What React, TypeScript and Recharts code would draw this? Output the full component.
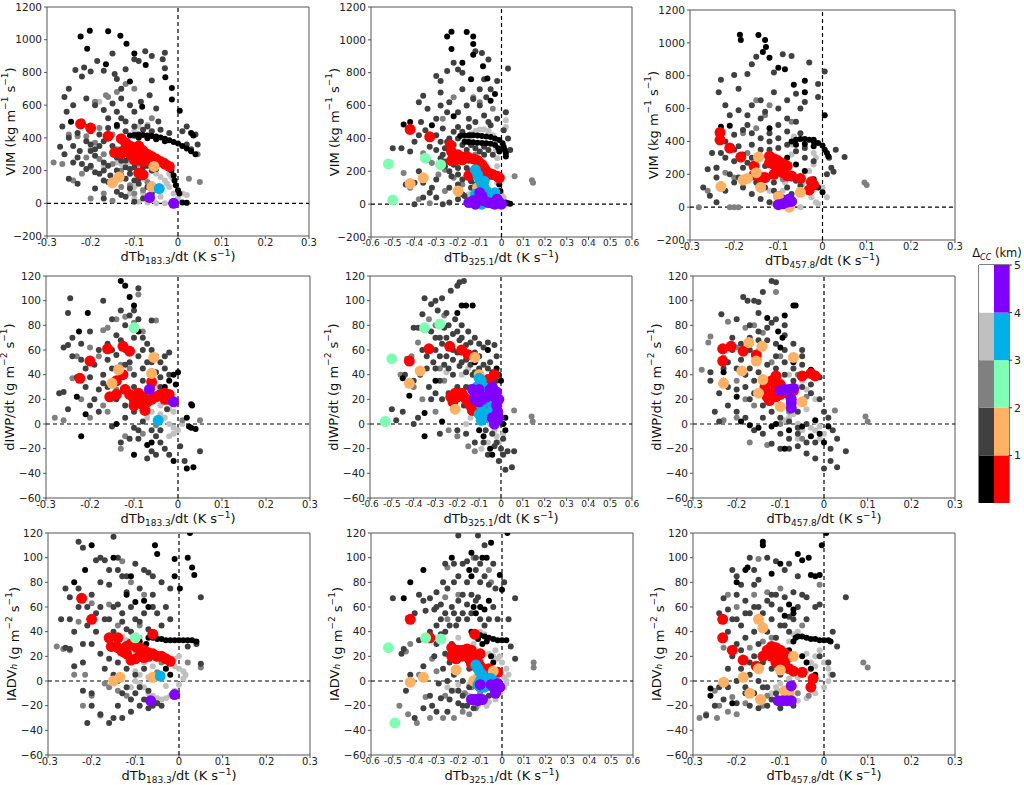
import React from "react";
import {
  ScatterChart,
  Scatter,
  XAxis,
  YAxis,
  ReferenceLine,
  ReferenceArea,
  BarChart,
  Bar,
  Cell,
} from "recharts";

type Pt = [number, number];

const FONT = "DejaVu Sans, Liberation Sans, sans-serif";

// axis ticks
const ticksNarrow = [-0.3, -0.2, -0.1, 0, 0.1, 0.2, 0.3];
const ticksWide = [-0.6, -0.5, -0.4, -0.3, -0.2, -0.1, 0, 0.1, 0.2, 0.3, 0.4, 0.5, 0.6];
const vimTicks = [-200, 0, 200, 400, 600, 800, 1000, 1200];
const fluxTicks = [-60, -40, -20, 0, 20, 40, 60, 80, 100, 120];

// colorbar
const cbSides = ["gray", "color"];
const cbGrays = ["#000000", "#404040", "#808080", "#c0c0c0", "#ffffff"];
const cbHues = ["#ff0000", "#ffb266", "#80ffb4", "#00b0e6", "#8000ff"];
const cbTicks = [0, 1, 2, 3, 4, 5];

// ---------- VIM vs dTb183.3 ----------
const vim183Black: Pt[] = [[-0.223,1020],[-0.202,1055],[-0.16,1052],[-0.132,1025],[-0.208,945],[-0.118,975],[-0.1,915],[-0.074,845],[-0.029,770],[-0.014,705],[-0.014,635],[0.004,565],[-0.245,498],[-0.14,478],[-0.082,590],[-0.165,850],[-0.11,745],
  [-0.11,415],[-0.1,418],[-0.09,420],[-0.08,418],[-0.07,415],[-0.06,412],[-0.05,408],[-0.04,402],[-0.03,395],[-0.02,385],[-0.01,375],[0,365],[0.01,350],[0.02,335],[0.03,318],[0.04,300],[-0.09,400],[-0.07,398],[-0.05,392],[-0.03,380],
  [-0.02,235],[-0.015,200],[-0.01,170],[-0.008,140],[-0.005,110],[0,80],[0.003,60],[0.01,5],[0.02,3],[-0.005,0],[0.03,430],[0.035,415]];
const vim183Dark: Pt[] = [[-0.26,650],[-0.25,700],[-0.24,600],[-0.235,815],[-0.22,775],[-0.215,830],[-0.2,805],[-0.185,870],[-0.17,810],[-0.15,915],[-0.14,760],[-0.145,790],[-0.13,700],[-0.12,820],[-0.1,880],[-0.09,870],[-0.075,930],[-0.06,900],[-0.03,920],[-0.035,880],[-0.03,825],[-0.06,750],[-0.065,660],[-0.05,580],[-0.085,620],[-0.1,560],[-0.11,600],[-0.13,640],[-0.15,610],[-0.17,570],[-0.19,600],[-0.21,640],[-0.255,560],[-0.265,470],[-0.27,345],[-0.26,300],[-0.25,400],[-0.23,430],[-0.21,380],[-0.2,320],[-0.19,290],[-0.18,350],[-0.16,400],[-0.17,250],[-0.15,310],[-0.13,260],[-0.12,220],[-0.11,180],[-0.1,140],[-0.09,120],[-0.08,160],[-0.07,260],[-0.06,300],[-0.04,450],[-0.02,430],[0.01,440],[0.02,470],[0.04,420],[0.045,360],[-0.225,320],[-0.24,250],[-0.2,230],[-0.18,180],[-0.16,130],[-0.14,70],[-0.12,40],[-0.1,10],[-0.08,30],[-0.06,60],[-0.05,100],[-0.13,520],[-0.14,560],[-0.16,520],[-0.205,470],[-0.2,440],[-0.22,500],[-0.12,500],[-0.085,500],[-0.07,470],[-0.045,500],[-0.11,300],[-0.095,250],[-0.08,220],[-0.14,200],[-0.12,150],[-0.155,170],[-0.17,140],[-0.06,200],[0.02,360],[0.03,330],
  [-0.19,330],[-0.17,380],[-0.15,350],[-0.13,330],[-0.11,280],[-0.09,270],[-0.07,230],[-0.05,210],[-0.16,230],[-0.14,280],[-0.12,260],[-0.1,220],[-0.08,190],[-0.13,170],[-0.11,210],[-0.09,150],[-0.07,100],[-0.15,140],[-0.17,200],[-0.19,190],[-0.21,210],[-0.23,280],[-0.18,420],[-0.16,460],[-0.12,440],[-0.1,470],[-0.08,450],[-0.06,440],[-0.14,470],[-0.2,360],[-0.24,350],[-0.22,240],[-0.25,150],[-0.23,120],[-0.19,90],[-0.17,30],[-0.13,50],[-0.11,90]];
const vim183Gray: Pt[] = [[-0.285,250],[-0.265,240],[-0.24,140],[-0.22,180],[-0.2,220],[-0.18,270],[-0.16,650],[-0.19,620],[-0.165,660],[-0.14,680],[-0.18,460],[-0.19,370],[-0.17,300],[-0.15,240],[-0.13,200],[-0.14,330],[-0.12,380],[-0.1,410],[-0.08,340],[-0.09,240],[-0.11,110],[-0.13,100],[-0.1,60],[-0.08,80],[-0.07,130],[-0.2,30],[-0.17,60],[-0.15,15],[0.025,150],[0.05,130],[0.045,300],[-0.21,410],[-0.23,410],[-0.25,420],[-0.1,700],[-0.12,730],[-0.06,520],[-0.15,420],[-0.21,280],[-0.03,260]];
const vim183Light: Pt[] = [[-0.07,230],[-0.06,200],[-0.05,180],[-0.04,160],[-0.03,140],[-0.025,120],[-0.02,100],[-0.01,60],[0,30],[0.01,60],[0.02,50],[-0.01,10],[-0.03,0],[-0.05,0],[-0.07,5],[-0.09,10],[-0.1,30],[-0.11,60],[-0.1,100],[-0.08,150],[-0.06,120],[-0.05,80],[-0.04,40],[-0.08,60],[-0.09,200],[-0.11,250],[-0.12,300],[-0.13,240],[-0.14,250],[-0.18,620],[-0.17,230],[-0.2,330],[-0.09,470],[-0.07,480],[-0.1,440],[-0.06,300],[-0.045,260],[0.02,0],[-0.02,180],[-0.015,160]];
const vim183Red: Pt[] = [[-0.223,485],[-0.2,460],[-0.16,410],[-0.13,395],[-0.12,370],[-0.11,350],[-0.1,340],[-0.09,330],[-0.08,320],[-0.07,300],[-0.06,285],[-0.05,270],[-0.04,255],[-0.03,240],[-0.02,225],[-0.145,310],[-0.13,305],[-0.11,300],[-0.1,310],[-0.09,290],[-0.08,280],[-0.07,270],[-0.1,265],[-0.08,255],[-0.06,250],[-0.085,180],[-0.08,175],[-0.09,185],[-0.12,330],[-0.09,350]];
const vim183Orange: Pt[] = [[-0.15,125],[-0.135,160],[-0.055,225],[-0.06,100]];
const vim183Mint: Pt[] = [];
const vim183Cyan: Pt[] = [[-0.043,90]];
const vim183Purple: Pt[] = [[-0.065,35],[-0.01,0]];

// ---------- VIM vs dTb325.1 ----------
const vim325Black: Pt[] = [[-0.23,1050],[-0.16,1048],[-0.13,1020],[-0.25,1020],[-0.13,975],[-0.23,945],[-0.13,910],[-0.18,860],[-0.065,765],[-0.085,840],[-0.14,760],[-0.45,485],[-0.42,500],[-0.32,480],[-0.22,535],[-0.05,630],[-0.03,670],
  [-0.19,415],[-0.17,418],[-0.15,420],[-0.13,420],[-0.11,418],[-0.09,415],[-0.07,412],[-0.05,408],[-0.03,400],[-0.01,390],[0.005,370],[0.01,350],[0.015,330],[0.02,310],[0.02,290],[-0.17,380],[-0.15,378],[-0.13,376],[-0.11,374],[-0.09,372],[-0.07,370],[-0.05,368],[-0.03,360],[-0.015,340],[-0.01,320],[0.02,10],[0.03,5],[0.04,3],[-0.01,120],[-0.005,80]];
const vim325Dark: Pt[] = [[-0.5,340],[-0.46,340],[-0.44,120],[-0.4,130],[-0.38,620],[-0.36,660],[-0.37,500],[-0.35,450],[-0.33,420],[-0.3,780],[-0.28,750],[-0.25,810],[-0.22,860],[-0.2,820],[-0.18,800],[-0.12,930],[-0.09,920],[-0.06,880],[-0.02,750],[-0.05,700],[-0.07,650],[-0.1,600],[-0.13,640],[-0.16,600],[-0.2,560],[-0.25,560],[-0.28,600],[-0.3,520],[-0.27,460],[-0.33,350],[-0.3,330],[-0.27,300],[-0.25,380],[-0.22,440],[-0.2,470],[-0.18,360],[-0.16,330],[-0.14,420],[-0.34,270],[-0.38,200],[-0.42,320],[-0.36,130],[-0.33,70],[-0.3,40],[-0.27,0],[-0.24,10],[-0.2,30],[-0.17,50],[-0.14,100],[-0.12,180],[-0.1,250],[-0.08,300],[-0.05,480],[0.01,450],[0.03,400],[0.04,330],[0.02,560],[-0.02,520],[-0.08,540],[-0.12,500],[-0.15,470],[-0.23,320],[-0.26,260],[-0.4,0],[-0.36,40],[-0.2,220],[-0.23,170],[0.03,825],
  [-0.3,420],[-0.28,380],[-0.26,340],[-0.24,400],[-0.22,360],[-0.2,400],[-0.18,440],[-0.16,380],[-0.14,360],[-0.12,340],[-0.1,320],[-0.08,350],[-0.06,330],[-0.04,300],[-0.28,280],[-0.26,230],[-0.24,200],[-0.22,240],[-0.2,180],[-0.18,150],[-0.16,220],[-0.14,140],[-0.12,120],[-0.1,100],[-0.3,150],[-0.32,100],[-0.24,100],[-0.2,120],[-0.18,60],[-0.34,580],[-0.24,620],[-0.18,700],[-0.1,700],[-0.08,760],[-0.15,520],[-0.06,500],[-0.28,680],[-0.38,420],[-0.4,380]];
const vim325Gray: Pt[] = [[-0.45,190],[-0.42,100],[-0.32,250],[-0.29,180],[-0.26,210],[-0.22,160],[-0.18,120],[-0.15,200],[-0.2,290],[-0.27,520],[-0.22,650],[-0.13,650],[-0.1,620],[-0.04,580],[-0.12,300],[-0.08,200],[-0.06,160],[0.14,145],[0.145,130],[0.06,170],[-0.38,30],[-0.33,5],[-0.26,80],[-0.14,30],[-0.36,310]];
const vim325Light: Pt[] = [[-0.15,400],[-0.14,430],[-0.12,445],[-0.1,455],[-0.08,455],[-0.06,445],[-0.04,420],[-0.03,380],[-0.025,330],[-0.02,280],[-0.02,230],[-0.02,180],[-0.02,130],[-0.01,80],[0,60],[0.01,40],[-0.07,80],[-0.09,60],[-0.11,40],[-0.13,30],[-0.15,60],[-0.05,30],[-0.03,20],[0.02,510],[0.02,470],[-0.12,300],[-0.11,250],[-0.13,200],[-0.16,160]];
const vim325Red: Pt[] = [[-0.42,455],[-0.33,410],[-0.235,360],[-0.23,320],[-0.22,290],[-0.21,270],[-0.2,300],[-0.19,290],[-0.17,285],[-0.15,280],[-0.13,275],[-0.11,265],[-0.1,250],[-0.09,240],[-0.08,220],[-0.07,200],[-0.06,190],[-0.04,180],[-0.02,170],[-0.01,160],[-0.15,175],[-0.13,190],[-0.23,265],[-0.18,270],[-0.16,290]];
const vim325Orange: Pt[] = [[-0.42,125],[-0.36,160],[-0.2,80],[-0.11,100],[-0.07,60]];
const vim325Mint: Pt[] = [[-0.52,245],[-0.5,25],[-0.35,280],[-0.28,240]];
const vim325Cyan: Pt[] = [[-0.12,210],[-0.11,180],[-0.1,150],[-0.09,120],[-0.08,100],[-0.07,80],[-0.06,60],[-0.1,10],[-0.09,0],[-0.07,30],[-0.04,40],[-0.03,70],[-0.08,140],[-0.12,60]];
const vim325Purple: Pt[] = [[-0.15,10],[-0.13,20],[-0.11,30],[-0.1,70],[-0.09,50],[-0.08,20],[-0.06,10],[-0.04,5],[-0.02,30],[-0.01,10],[0,0],[-0.03,0],[-0.12,0]];

// ---------- VIM vs dTb457.8 ----------
const vim457Black: Pt[] = [[-0.187,1050],[-0.185,1018],[-0.145,1048],[-0.13,1018],[-0.135,945],[-0.128,975],[-0.12,910],[-0.1,848],[-0.085,840],[-0.065,745],[-0.04,770],[-0.04,700],[-0.21,495],[-0.23,490],[-0.12,480],[0.005,560],[-0.02,410],
  [-0.07,400],[-0.06,410],[-0.05,415],[-0.04,415],[-0.03,410],[-0.02,400],[-0.01,390],[0,375],[0.005,350],[0.01,330],[0.013,310],[-0.06,380],[-0.04,385],[-0.02,370],[-0.08,300],[-0.06,260],[-0.04,220],[-0.02,170],[-0.01,120],[0,90]];
const vim457Dark: Pt[] = [[-0.235,700],[-0.23,775],[-0.2,805],[-0.17,810],[-0.16,870],[-0.15,915],[-0.11,820],[-0.09,930],[-0.07,920],[-0.03,880],[-0.01,750],[0.005,825],[-0.01,670],[-0.04,640],[-0.06,690],[-0.08,650],[-0.1,600],[-0.13,580],[-0.16,620],[-0.19,590],[-0.21,560],[-0.17,500],[-0.14,540],[-0.1,500],[-0.08,540],[-0.06,520],[-0.2,440],[-0.22,400],[-0.25,330],[-0.26,230],[-0.27,120],[-0.255,70],[-0.24,30],[-0.22,100],[-0.2,150],[-0.18,240],[-0.16,300],[-0.14,350],[-0.12,400],[-0.1,420],[-0.2,280],[-0.18,120],[-0.16,80],[-0.14,50],[-0.12,30],[-0.1,80],[-0.08,120],[-0.06,160],[-0.04,300],[0.01,200],[0.02,240],[0.03,350],[0.05,305],[-0.13,250],[-0.11,150],[-0.19,370],[-0.24,240],[0.015,300],[0.025,215],
  [-0.22,300],[-0.2,350],[-0.18,320],[-0.16,380],[-0.14,420],[-0.12,350],[-0.1,360],[-0.08,380],[-0.06,340],[-0.04,360],[-0.02,280],[-0.21,200],[-0.19,180],[-0.17,270],[-0.15,150],[-0.13,120],[-0.11,100],[-0.09,60],[-0.07,80],[-0.05,130],[-0.03,150],[-0.23,330],[-0.24,180],[-0.18,470],[-0.16,450],[-0.12,450],[-0.08,460],[-0.05,450],[-0.14,650],[-0.11,700],[-0.19,720],[-0.05,600],[-0.22,620],[-0.17,560]];
const vim457Gray: Pt[] = [[-0.28,0],[-0.26,100],[-0.24,240],[-0.22,210],[-0.2,180],[-0.17,330],[-0.15,650],[-0.13,560],[-0.12,620],[-0.18,450],[-0.15,480],[-0.1,300],[-0.07,520],[-0.09,170],[0.095,150],[0.1,135],[-0.21,0],[-0.2,0],[-0.19,0],[-0.1,10],[-0.23,140]];
const vim457Light: Pt[] = [[-0.11,20],[-0.1,60],[-0.09,100],[-0.085,150],[-0.08,200],[-0.075,260],[-0.07,320],[-0.068,380],[-0.065,430],[-0.055,170],[-0.045,140],[-0.035,100],[-0.025,60],[-0.015,30],[-0.01,20],[-0.03,220],[-0.02,260],[-0.015,300],[-0.02,330],[0,120],[0.01,60],[-0.05,0],[-0.07,20],[-0.12,100],[-0.15,250],[-0.18,160]];
const vim457Red: Pt[] = [[-0.232,455],[-0.232,410],[-0.21,360],[-0.185,305],[-0.155,250],[-0.155,195],[-0.14,180],[-0.13,180],[-0.12,310],[-0.11,295],[-0.1,280],[-0.09,265],[-0.08,250],[-0.1,230],[-0.09,210],[-0.11,200],[-0.08,190],[-0.07,190],[-0.05,175],[-0.03,105],[-0.025,155],[-0.02,135],[-0.11,260],[-0.12,270]];
const vim457Orange: Pt[] = [[-0.23,125],[-0.18,165],[-0.17,175],[-0.145,305],[-0.15,210],[-0.14,120],[-0.1,65],[-0.05,90],[-0.075,0]];
const vim457Mint: Pt[] = [];
const vim457Cyan: Pt[] = [];
const vim457Purple: Pt[] = [[-0.1,15],[-0.09,20],[-0.08,30],[-0.075,50],[-0.07,35]];

// ---------- dIWP/dt vs dTb183.3 ----------
const iwp183Black: Pt[] = [[-0.12,112],[-0.13,116],[-0.11,103],[-0.1,96],[-0.205,90],[-0.225,75],[-0.09,75],[0,42],[-0.01,40],[-0.02,35],[-0.005,32],[-0.03,30],[0.03,16],[0.032,15],[0.02,5],[0.025,-2],[0.03,-3],[0.04,-4],[-0.14,0],[-0.23,22],[-0.21,8],[-0.22,-10],[-0.07,-17],[0.02,-36],[0.035,-35],[-0.01,-30],[-0.1,-25],[-0.06,-15]];
const iwp183Dark: Pt[] = [[-0.245,102],[-0.25,90],[-0.26,62],[-0.25,64],[-0.24,55],[-0.22,52],[-0.21,45],[-0.2,38],[-0.19,48],[-0.18,28],[-0.17,33],[-0.16,52],[-0.15,60],[-0.14,56],[-0.13,68],[-0.12,80],[-0.11,88],[-0.1,92],[-0.09,85],[-0.08,70],[-0.07,65],[-0.06,60],[-0.05,55],[-0.04,50],[-0.03,45],[-0.02,58],[-0.07,50],[-0.09,55],[-0.11,50],[-0.13,40],[-0.15,45],[-0.17,40],[-0.19,20],[-0.2,15],[-0.21,30],[-0.23,38],[-0.26,26],[-0.27,25],[-0.25,12],[-0.15,-2],[-0.12,5],[-0.1,10],[-0.08,2],[-0.06,-5],[-0.05,-10],[-0.04,-15],[-0.03,-20],[-0.02,-25],[-0.07,-28],[-0.06,-22],[-0.09,-5],[-0.11,-12],[-0.13,-15],[-0.1,-3],[0.05,-22],[0.015,-30],[0.005,-18],[-0.025,12],[-0.17,100],[-0.14,72],[-0.09,110],[-0.06,84],[-0.04,38],
  [-0.18,60],[-0.16,65],[-0.14,45],[-0.12,48],[-0.1,40],[-0.08,45],[-0.06,50],[-0.04,30],[-0.02,40],[-0.12,60],[-0.1,70],[-0.08,60],[-0.06,30],[-0.14,20],[-0.16,30],[-0.18,10],[-0.1,30],[-0.08,35],[-0.05,42],[-0.03,55],[-0.2,75],[-0.22,65],[-0.24,70],[-0.12,15],[-0.09,-12],[-0.05,-25],[-0.04,-5],[-0.15,85],[-0.13,92]];
const iwp183Gray: Pt[] = [[-0.28,5],[-0.26,3],[-0.24,37],[-0.23,55],[-0.2,62],[-0.18,55],[-0.17,76],[-0.16,78],[-0.14,85],[-0.12,87],[-0.1,82],[-0.09,105],[-0.08,75],[-0.13,48],[-0.11,45],[-0.12,30],[-0.14,28],[-0.15,22],[-0.17,15],[-0.13,-20],[-0.12,-10],[-0.08,-8],[-0.05,-1],[0.05,3],[0.01,3],[-0.2,5],[-0.22,20],[-0.16,10],[-0.05,84],[-0.06,43],[-0.07,20]];
const iwp183Light: Pt[] = [[-0.06,25],[-0.05,20],[-0.04,15],[-0.03,18],[-0.02,12],[-0.01,10],[-0.04,8],[-0.03,5],[-0.02,0],[-0.01,-3],[0,-5],[0.01,0],[-0.01,-8],[-0.02,-10],[-0.06,10],[-0.07,5],[-0.05,30],[-0.08,12],[-0.09,20]];
const iwp183Red: Pt[] = [[-0.223,37],[-0.2,51],[-0.16,61],[-0.125,63],[-0.11,59],[-0.14,35],[-0.125,40],[-0.06,34],[-0.155,22],[-0.14,24],[-0.12,28],[-0.11,24],[-0.1,20],[-0.09,18],[-0.08,16],[-0.07,18],[-0.06,20],[-0.05,22],[-0.04,24],[-0.03,25],[-0.02,24],[-0.1,15],[-0.08,22],[-0.09,25],[-0.075,11],[-0.02,20],[-0.03,20]];
const iwp183Orange: Pt[] = [[-0.135,44],[-0.15,33],[-0.055,54],[-0.06,41]];
const iwp183Mint: Pt[] = [[-0.1,78]];
const iwp183Cyan: Pt[] = [[-0.045,3]];
const iwp183Purple: Pt[] = [[-0.065,28],[-0.01,18]];

// ---------- dIWP/dt vs dTb325.1 ----------
const iwp325Black: Pt[] = [[-0.18,96],[-0.16,96],[-0.13,96],[-0.2,90],[-0.42,23],[-0.45,37],[-0.35,9],[-0.27,2],[-0.3,35],[-0.15,58],[-0.12,50],[-0.06,60],[-0.02,45],[-0.01,40],[0,35],[-0.03,30],[0.02,5],[0.01,0],[-0.1,-5],[-0.08,-10],[-0.05,-20],[-0.04,-25],[0.02,-5],[-0.35,-10]];
const iwp325Dark: Pt[] = [[-0.17,116],[-0.19,115],[-0.2,112],[-0.23,108],[-0.27,102],[-0.3,100],[-0.35,102],[-0.32,97],[-0.29,92],[-0.25,90],[-0.21,85],[-0.18,80],[-0.15,75],[-0.36,89],[-0.38,78],[-0.4,78],[-0.32,75],[-0.3,70],[-0.27,65],[-0.25,70],[-0.22,73],[-0.19,68],[-0.16,64],[-0.12,58],[-0.08,62],[-0.06,66],[-0.03,64],[-0.02,55],[-0.05,50],[-0.1,45],[-0.13,40],[-0.16,42],[-0.19,47],[-0.22,52],[-0.25,55],[-0.28,55],[-0.31,50],[-0.34,45],[-0.37,40],[-0.4,35],[-0.33,30],[-0.3,25],[-0.27,20],[-0.24,25],[-0.2,30],[-0.17,15],[-0.14,10],[-0.1,5],[-0.07,-5],[-0.04,-8],[-0.02,-15],[0,-20],[0.01,-25],[0.03,-22],[0.05,-35],[0.02,-37],[0.06,-22],[-0.01,-30],[-0.45,10],[-0.48,3],[-0.5,12],[-0.38,5],[-0.28,-8],[-0.2,-5],[-0.16,-8],[-0.12,-15],[-0.4,0],[-0.22,40],[-0.44,40],
  [-0.3,60],[-0.28,70],[-0.26,48],[-0.24,45],[-0.22,60],[-0.2,58],[-0.18,50],[-0.16,52],[-0.14,48],[-0.12,42],[-0.1,55],[-0.08,48],[-0.06,45],[-0.04,42],[-0.02,35],[-0.14,66],[-0.12,70],[-0.1,65],[-0.18,70],[-0.2,75],[-0.24,80],[-0.26,78],[-0.28,35],[-0.3,45],[-0.34,55],[-0.36,60],[-0.32,20],[-0.16,30],[-0.08,-15],[-0.06,-25],[-0.03,-18],[0.01,-12]];
const iwp325Gray: Pt[] = [[-0.33,85],[-0.3,80],[-0.26,88],[-0.24,62],[-0.28,45],[-0.26,35],[-0.3,10],[-0.22,20],[-0.18,25],[-0.14,30],[-0.12,20],[-0.1,15],[-0.43,53],[-0.46,40],[-0.4,30],[-0.36,20],[-0.24,-5],[-0.2,-10],[-0.15,-18],[-0.12,-22],[0.14,6],[0.145,2],[0.06,11],[-0.08,30],[-0.05,20],[-0.41,55],[-0.38,66]];
const iwp325Light: Pt[] = [[-0.1,30],[-0.08,25],[-0.06,20],[-0.04,15],[-0.02,10],[-0.08,5],[-0.05,0],[-0.03,-5],[-0.02,-10],[-0.01,-15],[0.01,-8],[-0.12,10],[-0.14,5],[-0.16,0],[-0.2,20],[-0.18,40],[-0.15,45],[-0.25,42],[-0.09,-20],[-0.06,-15]];
const iwp325Red: Pt[] = [[-0.42,51],[-0.33,61],[-0.235,63],[-0.18,60],[-0.15,56],[-0.05,33],[-0.03,40],[-0.06,36],[-0.23,22],[-0.22,18],[-0.21,25],[-0.2,22],[-0.18,25],[-0.17,22],[-0.16,20],[-0.15,18],[-0.14,15],[-0.13,11],[-0.12,25],[-0.1,20],[-0.09,15],[-0.08,12],[-0.11,28]];
const iwp325Orange: Pt[] = [[-0.12,54],[-0.37,43],[-0.42,33],[-0.21,12],[-0.1,40]];
const iwp325Mint: Pt[] = [[-0.53,2],[-0.5,53],[-0.35,78],[-0.28,81]];
const iwp325Cyan: Pt[] = [[-0.1,37],[-0.09,35],[-0.08,30],[-0.07,27],[-0.06,22],[-0.05,18],[-0.1,25],[-0.09,15],[-0.08,10],[-0.07,5],[-0.09,3],[-0.06,8],[-0.04,12],[-0.03,20],[-0.1,8],[-0.11,30]];
const iwp325Purple: Pt[] = [[-0.13,28],[-0.12,25],[-0.11,22],[-0.1,18],[-0.085,20],[-0.065,22],[-0.05,28],[-0.04,30],[-0.03,22],[-0.02,15],[-0.015,10],[-0.01,5],[-0.02,3],[-0.03,0],[-0.04,5],[-0.02,26],[-0.01,20],[-0.12,20],[-0.1,28]];

// ---------- dIWP/dt vs dTb457.8 ----------
const iwp457Black: Pt[] = [[-0.13,86],[-0.105,75],[-0.09,88],[-0.07,96],[-0.065,96],[-0.095,70],[-0.1,62],[-0.07,50],[-0.03,44],[-0.2,22],[-0.23,35],[-0.23,42],[-0.11,0],[-0.08,-5],[-0.05,-2],[-0.02,3],[-0.01,-8],[0,-15],[0.01,-2],[-0.12,-2],[-0.15,-3],[-0.17,-1],[-0.19,2],[-0.03,-10],[-0.09,-20]];
const iwp457Dark: Pt[] = [[-0.235,89],[-0.185,103],[-0.175,100],[-0.16,100],[-0.15,99],[-0.14,107],[-0.12,116],[-0.11,115],[-0.2,85],[-0.17,80],[-0.15,75],[-0.13,68],[-0.11,65],[-0.09,60],[-0.07,55],[-0.05,48],[-0.03,40],[-0.01,38],[-0.21,70],[-0.19,65],[-0.17,60],[-0.15,52],[-0.13,48],[-0.11,45],[-0.09,40],[-0.07,35],[-0.05,30],[-0.03,25],[-0.01,20],[0,10],[0.01,5],[0.02,-5],[0.03,-12],[0.015,-20],[0.03,-35],[0.05,-22],[0.015,-30],[0,-36],[-0.02,-28],[-0.04,-24],[-0.06,-18],[-0.08,-12],[-0.1,-20],[-0.12,-16],[-0.14,-8],[-0.16,-5],[-0.18,5],[-0.2,10],[-0.22,15],[-0.24,2],[-0.26,35],[-0.26,42],[-0.22,50],[-0.2,45],[-0.18,40],[-0.16,35],[-0.14,30],[-0.12,25],[-0.14,15],[-0.12,10],[-0.1,5],[-0.08,2],[-0.06,10],[-0.04,0],[-0.15,90],[-0.09,80],[-0.05,60],[-0.12,82],[-0.2,28],[-0.17,20],[-0.06,-8],[-0.04,-15],
  [-0.19,52],[-0.17,45],[-0.15,42],[-0.13,35],[-0.11,55],[-0.09,50],[-0.07,45],[-0.05,40],[-0.03,32],[-0.15,68],[-0.13,78],[-0.11,85],[-0.09,72],[-0.07,65],[-0.05,55],[-0.17,70],[-0.21,60],[-0.23,45],[-0.18,30],[-0.16,25],[-0.14,5],[-0.1,-8],[-0.08,-20],[-0.06,-3],[-0.02,-15],[-0.24,25],[-0.25,10],[-0.22,30]];
const iwp457Gray: Pt[] = [[-0.28,44],[-0.265,66],[-0.26,71],[-0.23,54],[-0.2,62],[-0.18,78],[-0.16,80],[-0.14,74],[-0.11,107],[-0.22,83],[-0.2,35],[-0.18,20],[-0.16,15],[-0.14,25],[-0.2,5],[-0.23,3],[-0.1,0],[-0.08,10],[0.095,6],[0.1,2],[0.025,11],[-0.12,50],[-0.1,55],[-0.06,40],[-0.04,22],[-0.17,-15],[-0.13,-17],[-0.05,-12]];
const iwp457Light: Pt[] = [[-0.06,30],[-0.05,35],[-0.04,28],[-0.03,25],[-0.02,20],[-0.05,18],[-0.04,12],[-0.07,8],[-0.08,5],[-0.09,3],[-0.06,0],[-0.05,-5],[-0.03,-3],[-0.02,-5],[-0.01,-2],[0,-8],[-0.01,-12],[-0.02,2],[-0.1,35],[-0.12,30],[-0.15,60],[-0.09,25],[-0.08,40],[-0.06,-12]];
const iwp457Red: Pt[] = [[-0.232,61],[-0.213,63],[-0.232,51],[-0.185,59],[-0.155,56],[-0.135,30],[-0.12,35],[-0.11,39],[-0.1,32],[-0.12,25],[-0.11,22],[-0.125,19],[-0.1,24],[-0.09,26],[-0.08,24],[-0.07,27],[-0.05,39],[-0.03,41],[-0.02,39],[-0.11,30],[-0.13,22]];
const iwp457Orange: Pt[] = [[-0.172,66],[-0.142,63],[-0.155,51],[-0.07,54],[-0.188,43],[-0.14,36],[-0.23,33],[-0.15,25],[-0.1,14],[-0.05,18]];
const iwp457Mint: Pt[] = [];
const iwp457Cyan: Pt[] = [];
const iwp457Purple: Pt[] = [[-0.1,27],[-0.09,28],[-0.08,28],[-0.07,29],[-0.075,20],[-0.075,17],[-0.075,13]];

// ---------- IADVh vs dTb183.3 ----------
const adv183Black: Pt[] = [[-0.2,110],[-0.215,90],[-0.24,80],[-0.15,100],[-0.11,85],[-0.05,103],[-0.055,110],[-0.01,99],[0.02,100],[0.03,92],[0.035,86],[0.025,120],[-0.01,85],[0.002,75],[-0.08,65],[-0.07,60],[-0.1,64],[-0.12,70],
  [-0.07,35],[-0.06,35],[-0.05,34],[-0.04,34],[-0.03,33],[-0.02,33],[-0.01,33],[0,33],[0.01,33],[0.02,33],[0.03,33],[0.04,32],[-0.075,30],[-0.1,28],[-0.09,32],[-0.03,10],[-0.02,5]];
const adv183Dark: Pt[] = [[-0.23,113],[-0.22,108],[-0.19,98],[-0.17,98],[-0.15,117],[-0.14,100],[-0.14,90],[-0.13,85],[-0.1,95],[-0.08,90],[-0.07,88],[-0.06,85],[-0.04,80],[-0.02,75],[-0.26,75],[-0.25,68],[-0.23,60],[-0.2,70],[-0.18,80],[-0.16,78],[-0.12,72],[-0.09,75],[-0.11,60],[-0.13,55],[-0.15,60],[-0.17,50],[-0.19,55],[-0.21,45],[-0.24,40],[-0.27,50],[-0.25,50],[-0.22,30],[-0.2,30],[-0.18,22],[-0.16,18],[-0.14,15],[-0.12,10],[-0.1,5],[-0.14,0],[-0.12,-5],[-0.1,-10],[-0.08,-15],[-0.06,-20],[-0.04,-20],[-0.11,-25],[-0.13,-30],[-0.15,-30],[-0.16,-34],[-0.21,-34],[-0.18,-27],[-0.2,-10],[-0.22,-8],[-0.03,60],[-0.05,55],[-0.07,42],[-0.09,48],[-0.06,70],[0.05,68],[0.04,30],[0.05,14],[0.02,28],[-0.25,26],[-0.26,27],[-0.24,12],[-0.09,-5],[-0.07,-8],
  [-0.18,60],[-0.16,50],[-0.14,62],[-0.12,42],[-0.1,50],[-0.08,55],[-0.06,60],[-0.04,45],[-0.02,50],[-0.15,40],[-0.13,48],[-0.11,40],[-0.17,10],[-0.15,5],[-0.13,-10],[-0.11,-15],[-0.09,-20],[-0.07,-22],[-0.05,-18],[-0.19,40],[-0.21,60],[-0.23,75],[-0.18,100],[-0.12,85],[-0.16,90],[-0.2,-20],[-0.14,-20],[-0.08,10],[-0.22,15]];
const adv183Gray: Pt[] = [[-0.28,28],[-0.265,26],[-0.25,25],[-0.24,5],[-0.215,5],[-0.22,-20],[-0.2,-12],[-0.18,-28],[-0.16,-5],[-0.14,-8],[-0.12,30],[-0.1,25],[-0.14,45],[-0.16,62],[-0.2,63],[-0.23,48],[-0.11,80],[-0.13,97],[-0.09,45],[-0.06,20],[-0.04,15],[-0.05,7],[-0.17,-2],[-0.12,-12],[0.05,11],[0.02,15],[-0.08,70]];
const adv183Light: Pt[] = [[-0.09,-2],[-0.08,-5],[-0.07,-10],[-0.06,-12],[-0.05,-14],[-0.04,-15],[-0.03,-14],[-0.02,-12],[-0.01,-8],[0,-3],[0.01,2],[0.015,5],[0.01,8],[0,10],[-0.01,12],[-0.03,10],[-0.05,5],[-0.07,3],[-0.09,5],[-0.1,8],[-0.08,15],[-0.06,12],[-0.04,2],[-0.03,-4],[-0.1,0],[-0.11,-5],[-0.05,35],[-0.09,35],[-0.12,33],[-0.13,36],[0,20],[-0.01,18]];
const adv183Red: Pt[] = [[-0.223,67],[-0.2,50],[-0.16,35],[-0.14,35],[-0.06,38],[-0.155,28],[-0.14,27],[-0.13,24],[-0.12,28],[-0.11,30],[-0.1,28],[-0.09,27],[-0.08,25],[-0.07,23],[-0.06,22],[-0.05,20],[-0.04,20],[-0.03,18],[-0.02,16],[-0.1,18],[-0.09,20],[-0.08,19],[-0.07,20],[-0.11,17],[-0.12,22]];
const adv183Orange: Pt[] = [[-0.15,0],[-0.135,3],[-0.06,3]];
const adv183Mint: Pt[] = [[-0.1,35]];
const adv183Cyan: Pt[] = [[-0.043,4]];
const adv183Purple: Pt[] = [[-0.065,-16],[-0.01,-11]];

// ---------- IADVh vs dTb325.1 ----------
const adv325Black: Pt[] = [[-0.42,80],[-0.45,67],[-0.36,90],[-0.23,100],[-0.14,104],[-0.05,112],[-0.07,100],[-0.09,100],[-0.14,85],[-0.1,60],[-0.13,60],[-0.06,65],[-0.01,86],[0.025,120],[0,74],[-0.12,55],[-0.08,58],[-0.15,90],
  [-0.14,40],[-0.12,38],[-0.1,37],[-0.08,36],[-0.06,35],[-0.04,34],[-0.02,33],[0,33],[0.02,33],[-0.09,30],[-0.07,32],[-0.11,34],[-0.05,20],[-0.04,15]];
const adv325Dark: Pt[] = [[-0.5,67],[-0.43,51],[-0.38,70],[-0.36,65],[-0.33,67],[-0.3,72],[-0.27,80],[-0.25,75],[-0.22,80],[-0.2,85],[-0.18,95],[-0.16,97],[-0.12,100],[-0.08,110],[-0.11,118],[-0.2,118],[-0.12,90],[-0.1,80],[-0.08,85],[-0.06,78],[-0.03,75],[0.01,80],[-0.35,57],[-0.31,58],[-0.28,62],[-0.26,55],[-0.23,60],[-0.2,50],[-0.18,55],[-0.16,62],[-0.14,70],[-0.11,68],[-0.34,35],[-0.33,40],[-0.3,30],[-0.28,38],[-0.26,22],[-0.24,15],[-0.22,5],[-0.2,-8],[-0.18,-12],[-0.15,-5],[-0.12,-2],[-0.1,0],[-0.23,30],[-0.21,45],[-0.45,26],[-0.46,22],[-0.42,5],[-0.44,-8],[-0.4,-30],[-0.33,-12],[-0.28,-14],[-0.24,-15],[-0.2,-18],[-0.16,-20],[-0.13,-22],[-0.11,-18],[-0.08,-15],[-0.06,-12],[-0.04,-10],[0.06,67],[0.04,28],[0.06,18],[0.03,50],[-0.29,-2],[-0.36,12],[-0.31,20],[-0.4,55],[-0.38,33],
  [-0.3,45],[-0.28,50],[-0.26,40],[-0.24,45],[-0.22,55],[-0.2,65],[-0.18,70],[-0.16,50],[-0.14,55],[-0.12,65],[-0.1,50],[-0.08,45],[-0.06,50],[-0.04,60],[-0.02,50],[-0.3,60],[-0.26,95],[-0.22,95],[-0.16,80],[-0.1,95],[-0.04,95],[-0.27,10],[-0.25,0],[-0.23,-8],[-0.18,0],[-0.15,10],[-0.32,-20],[-0.3,-25],[-0.36,-22],[-0.25,-25],[-0.18,-20]];
const adv325Gray: Pt[] = [[-0.47,-20],[-0.43,-27],[-0.39,-34],[-0.33,-30],[-0.27,-30],[-0.22,-30],[-0.18,-25],[-0.15,-27],[-0.12,-22],[-0.17,-10],[-0.14,-5],[-0.38,5],[-0.32,18],[-0.25,50],[-0.2,70],[-0.26,68],[-0.13,100],[-0.25,92],[-0.06,90],[0.145,15],[0.145,11],[-0.44,24],[-0.42,30],[-0.3,8],[-0.26,-12],[-0.1,-10],[-0.35,-13],[-0.05,80]];
const adv325Light: Pt[] = [[-0.25,-5],[-0.22,-8],[-0.18,-10],[-0.15,-12],[-0.12,-14],[-0.09,-16],[-0.06,-17],[-0.03,-15],[-0.01,-10],[0.01,-5],[0.02,0],[0.03,5],[0.02,10],[0,15],[-0.02,18],[-0.04,20],[-0.06,22],[-0.03,25],[-0.01,20],[-0.08,5],[-0.1,0],[-0.12,-3],[-0.15,-3],[-0.2,-3],[-0.07,-20],[-0.11,-20],[-0.13,30],[-0.1,40],[-0.08,38],[-0.2,35],[0.01,3],[0.02,-2]];
const adv325Red: Pt[] = [[-0.42,50],[-0.33,35],[-0.125,38],[-0.23,27],[-0.22,22],[-0.2,25],[-0.19,20],[-0.18,25],[-0.17,22],[-0.16,20],[-0.15,18],[-0.14,25],[-0.13,20],[-0.12,17],[-0.11,15],[-0.1,12],[-0.09,10],[-0.08,8],[-0.07,5],[-0.02,7],[-0.23,20],[-0.21,18],[-0.16,26],[-0.14,14],[-0.12,12],[-0.1,22],[-0.06,10]];
const adv325Orange: Pt[] = [[-0.42,-1],[-0.36,3],[-0.21,9],[-0.11,3],[-0.04,8],[-0.13,0]];
const adv325Mint: Pt[] = [[-0.52,27],[-0.49,-34],[-0.35,35],[-0.28,34]];
const adv325Cyan: Pt[] = [[-0.12,13],[-0.11,10],[-0.1,7],[-0.09,5],[-0.08,3],[-0.07,2],[-0.1,0],[-0.11,-3],[-0.1,-5],[-0.08,-5],[-0.06,-2],[-0.05,2],[-0.04,0]];
const adv325Purple: Pt[] = [[-0.14,-15],[-0.13,-15],[-0.12,-15],[-0.11,-15],[-0.1,-15],[-0.09,-15],[-0.1,-3],[-0.05,-3],[-0.04,-5],[-0.03,-8],[-0.02,-5],[-0.03,-10],[-0.02,-2],[-0.01,-5]];

// ---------- IADVh vs dTb457.8 ----------
const adv457Black: Pt[] = [[-0.18,90],[-0.175,92],[-0.2,80],[-0.12,87],[-0.1,95],[-0.06,103],[-0.05,98],[-0.035,100],[-0.005,110],[0.005,120],[-0.03,86],[-0.01,86],[-0.07,58],[-0.08,62],[-0.07,55],[-0.09,53],[-0.26,-12],[-0.26,-6],[-0.21,-18],[-0.02,85],[-0.14,110],[-0.14,113],
  [-0.07,32],[-0.065,35],[-0.06,36],[-0.05,36],[-0.04,35],[-0.03,34],[-0.02,34],[-0.01,33],[0,33],[0.01,33],[0.015,32],[-0.08,25],[-0.05,20],[-0.04,15],[-0.03,10],[-0.02,5]];
const adv457Dark: Pt[] = [[-0.23,67],[-0.22,58],[-0.2,70],[-0.18,65],[-0.17,100],[-0.16,78],[-0.15,82],[-0.13,100],[-0.11,97],[-0.09,90],[-0.08,95],[-0.06,85],[-0.04,68],[-0.02,60],[-0.01,62],[0.02,40],[0.03,28],[0.05,68],[-0.21,50],[-0.19,45],[-0.17,55],[-0.15,60],[-0.13,65],[-0.11,70],[-0.09,68],[-0.07,72],[-0.05,70],[-0.18,35],[-0.16,40],[-0.14,45],[-0.12,50],[-0.1,45],[-0.08,40],[-0.16,20],[-0.14,15],[-0.12,10],[-0.1,5],[-0.2,30],[-0.21,20],[-0.19,10],[-0.17,5],[-0.15,0],[-0.13,-5],[-0.11,-10],[-0.09,-15],[-0.07,-20],[-0.17,-20],[-0.15,-22],[-0.13,-20],[-0.1,-22],[-0.22,-5],[-0.23,-15],[-0.25,-20],[-0.27,-28],[-0.01,20],[0.01,15],[0.02,5],[-0.03,-2],[-0.12,27],[-0.18,-10],[-0.21,90],[-0.19,78],
  [-0.22,40],[-0.2,50],[-0.18,55],[-0.16,60],[-0.14,55],[-0.12,62],[-0.1,58],[-0.08,52],[-0.06,60],[-0.04,50],[-0.19,25],[-0.17,15],[-0.15,30],[-0.13,40],[-0.11,35],[-0.09,45],[-0.07,50],[-0.2,0],[-0.18,-5],[-0.16,-10],[-0.14,-5],[-0.12,-15],[-0.1,-18],[-0.24,-5],[-0.2,-18],[-0.22,10],[-0.24,55],[-0.2,85],[-0.16,90],[-0.12,70]];
const adv457Gray: Pt[] = [[-0.285,-30],[-0.27,-27],[-0.245,-30],[-0.24,-20],[-0.22,-25],[-0.2,-27],[-0.18,-18],[-0.15,-15],[-0.14,-20],[-0.13,-12],[-0.17,27],[-0.14,32],[-0.12,35],[-0.2,60],[-0.16,70],[-0.13,72],[-0.1,75],[-0.15,99],[-0.22,70],[-0.23,27],[0.09,15],[0.1,11],[-0.01,78],[-0.05,45],[-0.25,-8],[-0.21,-13],[-0.06,-10],[-0.035,-12]];
const adv457Light: Pt[] = [[-0.11,-5],[-0.1,-8],[-0.09,-12],[-0.08,-15],[-0.06,-16],[-0.04,-14],[-0.02,-10],[0,-5],[0.01,0],[0.015,5],[0.01,10],[0,15],[-0.02,20],[-0.04,22],[-0.02,12],[-0.04,8],[-0.05,5],[-0.06,3],[-0.08,2],[-0.1,-2],[-0.06,40],[-0.07,38],[-0.08,32],[-0.09,25],[-0.03,15],[-0.01,25],[-0.1,-15],[-0.12,-10]];
const adv457Red: Pt[] = [[-0.232,50],[-0.232,35],[-0.21,25],[-0.185,17],[-0.155,12],[-0.14,20],[-0.13,25],[-0.12,28],[-0.11,27],[-0.1,25],[-0.09,22],[-0.08,20],[-0.12,20],[-0.11,15],[-0.1,12],[-0.09,15],[-0.08,10],[-0.07,8],[-0.1,18],[-0.05,7],[-0.025,2],[-0.03,-5],[-0.11,22]];
const adv457Orange: Pt[] = [[-0.15,50],[-0.14,43],[-0.23,-1],[-0.185,3],[-0.17,-10],[-0.145,-15],[-0.15,10],[-0.1,9],[-0.07,20],[-0.09,-8],[-0.08,-10]];
const adv457Mint: Pt[] = [];
const adv457Cyan: Pt[] = [];
const adv457Purple: Pt[] = [[-0.105,-16],[-0.095,-16],[-0.085,-16],[-0.075,-16],[-0.075,-4]];

const SMALL = 3;
const BIG = 5.5;

interface Layer { pts: Pt[]; color: string; r: number }

function layers(
  black: Pt[], dark: Pt[], gray: Pt[], light: Pt[],
  red: Pt[], orange: Pt[], mint: Pt[], cyan: Pt[], purple: Pt[],
): Layer[] {
  return [
    { pts: light, color: cbGrays[3], r: SMALL },
    { pts: gray, color: cbGrays[2], r: SMALL },
    { pts: dark, color: cbGrays[1], r: SMALL },
    { pts: black, color: cbGrays[0], r: SMALL },
    { pts: red, color: cbHues[0], r: BIG },
    { pts: orange, color: cbHues[1], r: BIG },
    { pts: mint, color: cbHues[2], r: BIG },
    { pts: cyan, color: cbHues[3], r: BIG },
    { pts: purple, color: cbHues[4], r: BIG },
  ];
}

function XTitle({ chan }: { chan: string }) {
  return (
    <>
      dTb
      <tspan dy={3} fontSize={9}>{chan}</tspan>
      <tspan dy={-3}>/dt (K s</tspan>
      <tspan dy={-5} fontSize={9}>−1</tspan>
      <tspan dy={5}>)</tspan>
    </>
  );
}

function YTitle({ kind }: { kind: string }) {
  if (kind === "vim")
    return (
      <>
        VIM (kg m
        <tspan dy={-5} fontSize={9}>−1</tspan>
        <tspan dy={5}> s</tspan>
        <tspan dy={-5} fontSize={9}>−1</tspan>
        <tspan dy={5}>)</tspan>
      </>
    );
  const head = kind === "iwp" ? <>dIWP/dt</> : <>IADV<tspan dy={3} fontSize={9} fontStyle="italic">h</tspan><tspan dy={-3}></tspan></>;
  return (
    <>
      {head}
      <tspan> (g m</tspan>
      <tspan dy={-5} fontSize={9}>−2</tspan>
      <tspan dy={5}> s</tspan>
      <tspan dy={-5} fontSize={9}>−1</tspan>
      <tspan dy={5}>)</tspan>
    </>
  );
}

interface PanelSpec {
  box: { x: number; y: number; w: number; h: number };
  wide: boolean;
  chan: string;
  kind: string;
  data: Layer[];
}

const panels: PanelSpec[] = [
  { box: { x: 47, y: 7, w: 262, h: 229 }, wide: false, chan: "183.3", kind: "vim", data: layers(vim183Black, vim183Dark, vim183Gray, vim183Light, vim183Red, vim183Orange, vim183Mint, vim183Cyan, vim183Purple) },
  { box: { x: 371, y: 7, w: 261, h: 230 }, wide: true, chan: "325.1", kind: "vim", data: layers(vim325Black, vim325Dark, vim325Gray, vim325Light, vim325Red, vim325Orange, vim325Mint, vim325Cyan, vim325Purple) },
  { box: { x: 690, y: 10, w: 265, h: 230 }, wide: false, chan: "457.8", kind: "vim", data: layers(vim457Black, vim457Dark, vim457Gray, vim457Light, vim457Red, vim457Orange, vim457Mint, vim457Cyan, vim457Purple) },
  { box: { x: 46, y: 276, w: 264, h: 222 }, wide: false, chan: "183.3", kind: "iwp", data: layers(iwp183Black, iwp183Dark, iwp183Gray, iwp183Light, iwp183Red, iwp183Orange, iwp183Mint, iwp183Cyan, iwp183Purple) },
  { box: { x: 370, y: 276, w: 262, h: 222 }, wide: true, chan: "325.1", kind: "iwp", data: layers(iwp325Black, iwp325Dark, iwp325Gray, iwp325Light, iwp325Red, iwp325Orange, iwp325Mint, iwp325Cyan, iwp325Purple) },
  { box: { x: 693, y: 276, w: 262, h: 222 }, wide: false, chan: "457.8", kind: "iwp", data: layers(iwp457Black, iwp457Dark, iwp457Gray, iwp457Light, iwp457Red, iwp457Orange, iwp457Mint, iwp457Cyan, iwp457Purple) },
  { box: { x: 48, y: 533, w: 262, h: 222 }, wide: false, chan: "183.3", kind: "adv", data: layers(adv183Black, adv183Dark, adv183Gray, adv183Light, adv183Red, adv183Orange, adv183Mint, adv183Cyan, adv183Purple) },
  { box: { x: 371, y: 533, w: 262, h: 222 }, wide: true, chan: "325.1", kind: "adv", data: layers(adv325Black, adv325Dark, adv325Gray, adv325Light, adv325Red, adv325Orange, adv325Mint, adv325Cyan, adv325Purple) },
  { box: { x: 693, y: 533, w: 262, h: 222 }, wide: false, chan: "457.8", kind: "adv", data: layers(adv457Black, adv457Dark, adv457Gray, adv457Light, adv457Red, adv457Orange, adv457Mint, adv457Cyan, adv457Purple) },
];

const fmtX = (v: number) => (v === 0 ? "0" : v.toFixed(1));
const fmtY = (v: number) => (v < 0 ? "\u2212" + Math.abs(v) : String(v));

function Panel({ p }: { p: PanelSpec }) {
  const LEFT = 50;
  const TOP = 10;
  const W = p.box.w + LEFT + 10;
  const H = p.box.h + TOP + 40;
  const xTicks = p.wide ? ticksWide : ticksNarrow;
  const xDom: [number, number] = p.wide ? [-0.6, 0.6] : [-0.3, 0.3];
  const yTicks = p.kind === "vim" ? vimTicks : fluxTicks;
  const yDom: [number, number] = p.kind === "vim" ? [-200, 1200] : [-60, 120];
  return (
    <div style={{ position: "absolute", left: p.box.x - LEFT, top: p.box.y - TOP }}>
      <ScatterChart width={W} height={H} margin={{ top: TOP, right: 10, bottom: 0, left: 0 }}>
        <XAxis
          type="number"
          dataKey="x"
          domain={xDom}
          ticks={xTicks}
          allowDataOverflow
          height={40}
          tickSize={3}
          tickMargin={0}
          axisLine={false}
          tickLine={{ stroke: "#555" }}
          tickFormatter={fmtX}
          tick={{ fontSize: p.wide ? 9 : 10, fill: "#222", fontFamily: FONT }}
          label={(props: any) => {
            const vb = props?.viewBox ?? { x: LEFT, y: TOP + p.box.h, width: p.box.w };
            return (
              <text x={vb.x + vb.width / 2} y={vb.y + 25} textAnchor="middle" fontSize={13} fill="#111" fontFamily={FONT}>
                <XTitle chan={p.chan} />
              </text>
            );
          }}
        />
        <YAxis
          type="number"
          dataKey="y"
          domain={yDom}
          ticks={yTicks}
          allowDataOverflow
          width={LEFT}
          tickSize={3}
          tickMargin={2}
          axisLine={false}
          tickLine={{ stroke: "#555" }}
          tickFormatter={fmtY}
          tick={{ fontSize: 10.5, fill: "#222", fontFamily: FONT }}
          label={(props: any) => {
            const vb = props?.viewBox ?? { x: 0, y: TOP, height: p.box.h };
            const cx = vb.x + 13;
            const cy = vb.y + vb.height / 2;
            return (
              <text transform={`translate(${cx},${cy}) rotate(-90)`} textAnchor="middle" dominantBaseline="central" fontSize={13} fill="#111" fontFamily={FONT}>
                <YTitle kind={p.kind} />
              </text>
            );
          }}
        />
        <ReferenceLine x={0} stroke="#000" strokeDasharray="4 3" strokeWidth={1.2} />
        <ReferenceLine y={0} stroke="#000" strokeDasharray="4 3" strokeWidth={1.2} />
        {p.data.map((l, i) => (
          <Scatter
            key={i}
            data={l.pts.map(([x, y]) => ({ x, y }))}
            isAnimationActive={false}
            shape={(s: any) => <circle cx={s.cx} cy={s.cy} r={l.r} fill={l.color} />}
          />
        ))}
        <ReferenceArea x1={xDom[0]} x2={xDom[1]} y1={yDom[0]} y2={yDom[1]} fill="none" fillOpacity={0} stroke="#555" strokeWidth={1} />
      </ScatterChart>
    </div>
  );
}

function ColorBar() {
  const data = cbSides.map((side) => ({ side, b0: 1, b1: 1, b2: 1, b3: 1, b4: 1 }));
  return (
    <div style={{ position: "absolute", left: 969, top: 245 }}>
      <BarChart width={55} height={258} data={data} margin={{ top: 20, right: 0, bottom: 0, left: 10 }} barCategoryGap={0} barGap={0}>
        <XAxis dataKey="side" hide />
        <YAxis
          orientation="right"
          type="number"
          domain={[0, 5]}
          ticks={cbTicks}
          width={15}
          tickSize={3}
          tickMargin={2}
          axisLine={false}
          tickLine={{ stroke: "#333" }}
          tick={{ fontSize: 11, fill: "#222", fontFamily: FONT, textAnchor: "start" }}
          label={(props: any) => {
            const vb = props?.viewBox ?? { x: 40, y: 20 };
            return (
              <text x={vb.x - 12} y={vb.y - 8} textAnchor="middle" fontSize={11.5} fill="#111" fontFamily={FONT}>
                Δ<tspan dy={3} fontSize={8} fontStyle="italic">CC</tspan>
                <tspan dy={-3}> (km)</tspan>
              </text>
            );
          }}
        />
        {cbGrays.map((_, i) => (
          <Bar key={i} dataKey={`b${i}`} stackId="cb" isAnimationActive={false}>
            {data.map((d, j) => (
              <Cell key={d.side} fill={j === 0 ? cbGrays[i] : cbHues[i]} />
            ))}
          </Bar>
        ))}
        <ReferenceArea y1={0} y2={5} fill="none" fillOpacity={0} stroke="#000" strokeWidth={1} />
      </BarChart>
    </div>
  );
}

export default function App() {
  return (
    <div style={{ position: "absolute", left: 0, top: 0, width: 1024, height: 785, overflow: "hidden", background: "#fff", fontFamily: FONT }}>
      {panels.map((p, i) => (
        <Panel key={i} p={p} />
      ))}
      <ColorBar />
    </div>
  );
}
